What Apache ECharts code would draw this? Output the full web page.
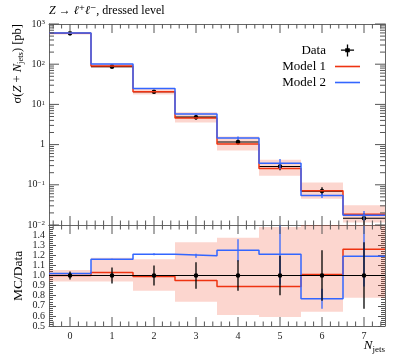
<!DOCTYPE html>
<html>
<head>
<meta charset="utf-8">
<script src="https://cdn.jsdelivr.net/npm/echarts@6/dist/echarts.min.js"></script>
<style>
  html, body { margin: 0; padding: 0; background: #fff; }
  #chart { width: 398px; height: 359px; }
</style>
</head>
<body>
<div id="chart"></div>
<script>
// jet multiplicity bins
const bins = [0, 1, 2, 3, 4, 5, 6, 7]
const xTickLabels = ['0', '1', '2', '3', '4', '5', '6', '7']
const yMainTickLabels = ['{b|10}{p|−2}', '{b|10}{p|−1}', '{b|1}', '{b|10}{p|1}', '{b|10}{p|2}', '{b|10}{p|3}']

// main panel, cross sections in pb
const dataXsec = [586, 87, 20.7, 4.8, 1.16, 0.285, 0.070, 0.0147]
const dataRelErr = [0.04, 0.08, 0.10, 0.13, 0.15, 0.195, 0.25, 0.33]
const model1Xsec = [586, 89.6, 20.5, 4.56, 1.03, 0.254, 0.0707, 0.0185]
const model2Xsec = [598, 101, 25.0, 5.74, 1.45, 0.345, 0.0539, 0.0175]
const model2RelErr = [0.01, 0.005, 0.01, 0.02, 0.09, 0.27, 0.13, 0.27]
const bandLoXsec = [551, 81.8, 17.6, 3.55, 0.71, 0.168, 0.045, 0.0115]
const bandHiXsec = [618, 102, 24.0, 6.4, 1.60, 0.42, 0.114, 0.031]

// ratio panel, MC / Data
const ratio1 = [1.0, 1.03, 0.99, 0.95, 0.89, 0.89, 1.01, 1.26]
const ratio2 = [1.02, 1.16, 1.21, 1.195, 1.25, 1.21, 0.77, 1.19]
const ratio2Err = [0.01, 0.005, 0.01, 0.02, 0.11, 0.3, 0.1, 0.3]
const ratioBandLo = [0.94, 0.94, 0.85, 0.74, 0.61, 0.59, 0.64, 0.78]
const ratioBandHi = [1.055, 1.175, 1.16, 1.33, 1.375, 1.48, 1.62, 2.1]

const serif = '"Liberation Serif", "DejaVu Serif", serif'
const red = '#EE3311'
const blue = '#3366FF'
const band = 'rgba(238, 51, 17, 0.2)'
const frame = '#666'
const tickColor = '#555'
const lg = Math.log10

const dom = document.getElementById('chart')
const chart = echarts.init(dom, null, { renderer: 'canvas' })

function steps (vals, f) {
  const pts = []
  vals.forEach((v, i) => {
    pts.push([bins[i] - 0.5, f(v)], [bins[i] + 0.5, f(v)])
  })
  return pts
}

function clampY (y, cs) {
  return Math.max(cs.y, Math.min(cs.y + cs.height, y))
}

function bandSeries (xi, yi, lo, hi) {
  return {
    type: 'custom', xAxisIndex: xi, yAxisIndex: yi, z: 1, silent: true,
    data: bins.map((b, i) => [b, lo[i], hi[i]]),
    renderItem (p, api) {
      const a = api.coord([api.value(0) - 0.5, api.value(1)])
      const b = api.coord([api.value(0) + 0.5, api.value(2)])
      const y1 = clampY(b[1], p.coordSys)
      const y2 = clampY(a[1], p.coordSys)
      return { type: 'rect', shape: { x: a[0], y: y1, width: b[0] - a[0], height: y2 - y1 }, style: { fill: band } }
    }
  }
}

function stepSeries (name, xi, yi, pts, color, z) {
  return {
    name, type: 'line', xAxisIndex: xi, yAxisIndex: yi, z,
    data: pts, showSymbol: false, symbol: 'none', silent: true,
    itemStyle: { color }, lineStyle: { color, width: 1.5 }
  }
}

function errSeries (name, xi, yi, items, color, z, withPoint) {
  return {
    name, type: 'custom', xAxisIndex: xi, yAxisIndex: yi, z, silent: true,
    itemStyle: { color },
    data: items,
    renderItem (p, api) {
      const x = api.value(0)
      const c = api.coord([x, api.value(1)])
      const lo = api.coord([x, api.value(2)])
      const hi = api.coord([x, api.value(3)])
      const children = [{
        type: 'line',
        shape: { x1: c[0], y1: clampY(lo[1], p.coordSys), x2: c[0], y2: clampY(hi[1], p.coordSys) },
        style: { stroke: color, lineWidth: 1.3 }
      }]
      if (withPoint) {
        const l = api.coord([x - 0.5, api.value(1)])
        const r = api.coord([x + 0.5, api.value(1)])
        children.push({ type: 'line', shape: { x1: l[0], y1: c[1], x2: r[0], y2: c[1] }, style: { stroke: color, lineWidth: 1.2 } })
        children.push({ type: 'circle', shape: { cx: c[0], cy: c[1], r: 2.3 }, style: { fill: color } })
      }
      return { type: 'group', children }
    }
  }
}

// tick marks drawn on the frames, [x, y, dx, dy] in data coords + pixel offset
function tickSeries (xi, yi, items) {
  return {
    type: 'custom', xAxisIndex: xi, yAxisIndex: yi, z: 6, silent: true,
    data: items,
    renderItem (p, api) {
      const pt = api.coord([api.value(0), api.value(1)])
      return {
        type: 'line',
        shape: { x1: pt[0], y1: pt[1], x2: pt[0] + api.value(2), y2: pt[1] + api.value(3) },
        style: { stroke: tickColor, lineWidth: 1 }
      }
    }
  }
}

const xMinor = []
for (let k = -2; k <= 37; k++) {
  if (k % 5 !== 0) xMinor.push(Math.round(k * 2) / 10)
}
const mainTicks = []
const ratioTicks = []
bins.forEach(b => {
  mainTicks.push([b, -2, 0, -9], [b, 3, 0, 9])
  ratioTicks.push([b, 0.5, 0, -9], [b, 1.5, 0, 9])
})
xMinor.forEach(v => {
  mainTicks.push([v, -2, 0, -4.5], [v, 3, 0, 4.5])
  ratioTicks.push([v, 0.5, 0, -4.5], [v, 1.5, 0, 4.5])
})
for (let d = -2; d <= 3; d++) {
  mainTicks.push([-0.5, d, 10, 0], [7.5, d, -10, 0])
  if (d < 3) {
    for (let k = 2; k <= 9; k++) {
      const v = d + lg(k)
      mainTicks.push([-0.5, v, 5, 0], [7.5, v, -5, 0])
    }
  }
}

const axisLine = { show: true, onZero: false, lineStyle: { color: frame, width: 1 } }
const noTick = { show: false }
const tickFont = { fontFamily: serif, fontSize: 10, color: '#222' }

const option = {
  animation: false,
  backgroundColor: '#fff',
  title: {
    text: '{i|Z} → {i|ℓ}⁺{i|ℓ}⁻, dressed level',
    left: 49, top: 5, padding: 0,
    textStyle: {
      fontFamily: serif, fontSize: 12, fontWeight: 'normal', color: '#000',
      rich: { i: { fontFamily: serif, fontSize: 12, fontStyle: 'italic', color: '#000' } }
    }
  },
  legend: {
    orient: 'vertical', align: 'right', right: 33, top: 39,
    itemWidth: 25, itemHeight: 12, itemGap: 3, selectedMode: false,
    textStyle: { fontFamily: serif, fontSize: 13, color: '#000', padding: [0, 4, 0, 0] },
    data: [
      { name: 'Data', icon: 'path://M5.4,0H6.6V4.6H12V5.8H6.6V11H5.4V5.8H0V4.6H5.4Z M3.9,3.4H8.1V7.0H3.9Z' },
      { name: 'Model 1', icon: 'path://M0,0H25V1.6H0Z' },
      { name: 'Model 2', icon: 'path://M0,0H25V1.6H0Z' }
    ]
  },
  grid: [
    { left: 49, right: 13, top: 24, height: 201 },
    { left: 49, right: 13, top: 225, height: 101 }
  ],
  xAxis: [
    { gridIndex: 0, type: 'value', min: -0.5, max: 7.5, position: 'bottom', axisLine, axisTick: noTick, axisLabel: { show: false }, splitLine: { show: false } },
    { gridIndex: 0, type: 'value', min: -0.5, max: 7.5, position: 'top', axisLine, axisTick: noTick, axisLabel: { show: false }, splitLine: { show: false } },
    { gridIndex: 1, type: 'value', min: -0.5, max: 7.5, position: 'bottom', axisLine, axisTick: noTick, axisLabel: { show: false }, splitLine: { show: false } },
    { gridIndex: 1, type: 'value', min: -0.5, max: 7.5, position: 'top', axisLine, axisTick: noTick, axisLabel: { show: false }, splitLine: { show: false } },
    {
      gridIndex: 1, type: 'category', data: xTickLabels, boundaryGap: true, position: 'bottom',
      axisLine: { show: false }, axisTick: noTick, splitLine: { show: false },
      axisLabel: Object.assign({ margin: 5, interval: 0 }, tickFont)
    }
  ],
  yAxis: [
    {
      gridIndex: 0, type: 'value', min: -2, max: 3, interval: 1, position: 'left',
      axisLine, axisTick: noTick, splitLine: { show: false },
      axisLabel: Object.assign({
        margin: 4,
        formatter: v => yMainTickLabels[Math.round(v) + 2],
        rich: {
          b: { fontFamily: serif, fontSize: 10, color: '#222' },
          p: { fontFamily: serif, fontSize: 7, color: '#222', verticalAlign: 'top' }
        }
      }, tickFont)
    },
    { gridIndex: 0, type: 'value', min: -2, max: 3, interval: 1, position: 'right', axisLine, axisTick: noTick, axisLabel: { show: false }, splitLine: { show: false } },
    {
      gridIndex: 1, type: 'value', min: 0.5, max: 1.5, interval: 0.1, position: 'left',
      axisLine, splitLine: { show: false },
      axisTick: { show: true, inside: true, length: 7, lineStyle: { color: tickColor } },
      minorTick: { show: true, splitNumber: 5, length: 4, lineStyle: { color: tickColor } },
      axisLabel: Object.assign({ margin: 4, showMaxLabel: false, formatter: v => v.toFixed(1) }, tickFont)
    },
    {
      gridIndex: 1, type: 'value', min: 0.5, max: 1.5, interval: 0.1, position: 'right',
      axisLine, splitLine: { show: false }, axisLabel: { show: false },
      axisTick: { show: true, inside: true, length: 7, lineStyle: { color: tickColor } },
      minorTick: { show: true, splitNumber: 5, length: 4, lineStyle: { color: tickColor } }
    }
  ],
  graphic: [
    {
      type: 'text', x: 18, y: 24, rotation: Math.PI / 2, silent: true,
      style: {
        text: '{n|σ(}{i|Z}{n| + }{i|N}{s|jets}{n|) [pb]}',
        align: 'right', verticalAlign: 'middle', fill: '#000',
        rich: {
          n: { fontFamily: serif, fontSize: 12.5, lineHeight: 15 },
          i: { fontFamily: serif, fontSize: 12.5, fontStyle: 'italic', lineHeight: 15 },
          s: { fontFamily: serif, fontSize: 8.5, verticalAlign: 'bottom' }
        }
      }
    },
    {
      type: 'text', x: 18, y: 276, rotation: Math.PI / 2, silent: true,
      style: { text: 'MC/Data', align: 'center', verticalAlign: 'middle', fill: '#000', font: '13.5px ' + serif }
    },
    {
      type: 'text', x: 385, y: 346, silent: true,
      style: {
        text: '{i|N}{s|jets}', align: 'right', verticalAlign: 'middle', fill: '#000',
        rich: {
          i: { fontFamily: serif, fontSize: 13, fontStyle: 'italic', lineHeight: 16 },
          s: { fontFamily: serif, fontSize: 9, verticalAlign: 'bottom' }
        }
      }
    }
  ],
  series: [
    // main panel
    bandSeries(0, 0, bandLoXsec.map(lg), bandHiXsec.map(lg)),
    errSeries('Data', 0, 0, bins.map((b, i) => [b, lg(dataXsec[i]), lg(dataXsec[i] * (1 - dataRelErr[i])), lg(dataXsec[i] * (1 + dataRelErr[i]))]), '#000', 2, true),
    stepSeries('Model 1', 0, 0, steps(model1Xsec, lg), red, 3),
    stepSeries('Model 2', 0, 0, steps(model2Xsec, lg), blue, 4),
    errSeries('Model 2', 0, 0, bins.map((b, i) => [b, lg(model2Xsec[i]), lg(model2Xsec[i] * (1 - model2RelErr[i])), lg(model2Xsec[i] * (1 + model2RelErr[i]))]), blue, 4, false),
    // ratio panel
    bandSeries(2, 2, ratioBandLo, ratioBandHi),
    stepSeries('Model 1', 2, 2, steps(ratio1, v => v), red, 2),
    stepSeries('Model 2', 2, 2, steps(ratio2, v => v), blue, 3),
    errSeries('Model 2', 2, 2, bins.map((b, i) => [b, ratio2[i], ratio2[i] - ratio2Err[i], ratio2[i] + ratio2Err[i]]), blue, 3, false),
    errSeries('Data', 2, 2, bins.map((b, i) => [b, 1, 1 - dataRelErr[i], 1 + dataRelErr[i]]), '#000', 4, true),
    // frame ticks
    tickSeries(0, 0, mainTicks),
    tickSeries(2, 2, ratioTicks)
  ]
}

chart.setOption(option)
window.addEventListener('resize', () => chart.resize())
</script>
</body>
</html>
